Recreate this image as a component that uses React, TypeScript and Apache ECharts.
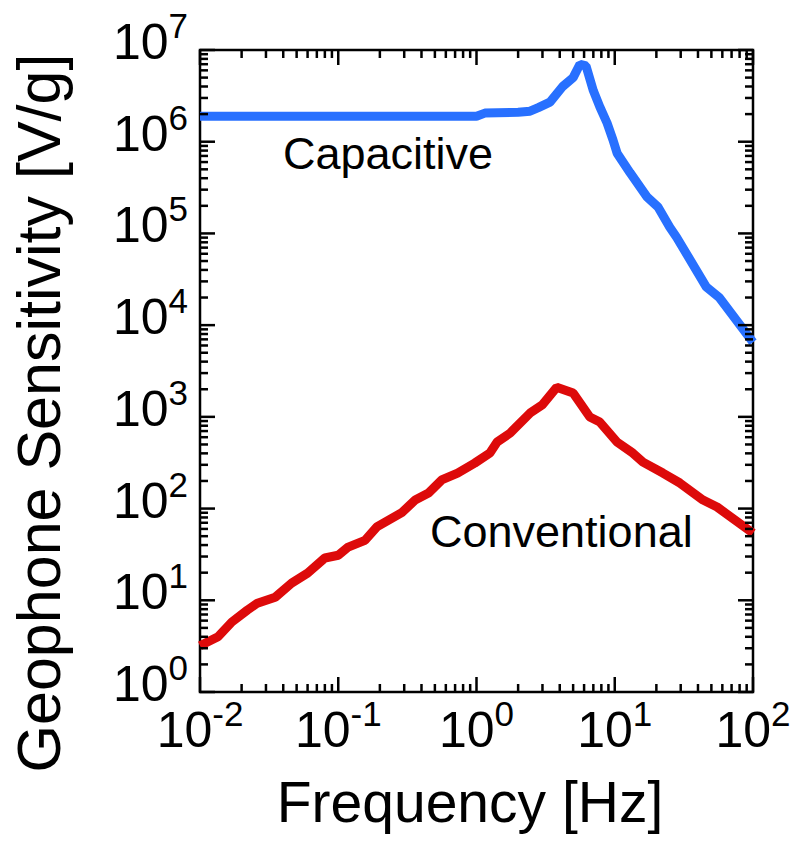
import React, { useEffect, useRef } from 'react';
import * as echarts from 'echarts';

// Capacitive geophone sensitivity [V/g] vs frequency [Hz]
const capFreq = [0.01, 0.1, 1.0, 1.15, 2.0, 2.44, 2.8, 3.4, 4.2, 5.0, 5.6, 6.2, 7.0, 7.8, 8.8, 9.7, 10.4, 12.9, 17.1, 20.5, 25, 28, 46, 57, 100];
const capSens = [1.9e6, 1.9e6, 1.9e6, 2.05e6, 2.1e6, 2.15e6, 2.35e6, 2.7e6, 4.0e6, 5.0e6, 7.0e6, 6.7e6, 3.6e6, 2.4e6, 1.6e6, 1.05e6, 7.5e5, 4.6e5, 2.5e5, 1.95e5, 1.17e5, 9.1e4, 2.6e4, 2.0e4, 6.5e3];

// Conventional geophone sensitivity [V/g] vs frequency [Hz]
const convFreq = [0.01, 0.0135, 0.017, 0.022, 0.026, 0.035, 0.046, 0.06, 0.08, 0.1, 0.118, 0.156, 0.19, 0.29, 0.36, 0.45, 0.56, 0.73, 0.97, 1.25, 1.41, 1.75, 2.44, 2.98, 3.8, 5.0, 6.6, 7.8, 10.4, 13.5, 16, 22.3, 29.6, 43.5, 55, 100];
const convSens = [3.2, 4.0, 5.8, 7.8, 9.3, 10.8, 15.4, 19.8, 28.9, 31, 38, 45, 63, 91, 124, 148, 205, 244, 313, 403, 531, 665, 1100, 1345, 2100, 1820, 995, 877, 531, 403, 321, 244, 190, 124, 104, 54];

// Axis decades (exponents) and minor tick multipliers
const xExponents = [-2, -1, 0, 1, 2];
const yExponents = [0, 1, 2, 3, 4, 5, 6, 7];
const minorMultipliers = [2, 3, 4, 5, 6, 7, 8, 9];

const X_MIN = 0.01;
const X_MAX = 100;
const Y_MIN = 1;
const Y_MAX = 1e7;

const FONT = 'Liberation Sans, Arial, Helvetica, sans-serif';
const BLUE = '#2870ff';
const RED = '#dd0a0a';

export default function App() {
  const ref = useRef<HTMLDivElement>(null);

  useEffect(() => {
    if (!ref.current) return;
    const chart = echarts.init(ref.current, null, { renderer: 'svg' });

    const expLabel = (v: number) => `{b|10}{s|${Math.round(Math.log10(v))}}`;
    const rich = {
      b: { fontSize: 50, lineHeight: 68, fontFamily: FONT, color: '#000' },
      s: { fontSize: 35, lineHeight: 35, verticalAlign: 'top', fontFamily: FONT, color: '#000' },
    };

    chart.setOption({
      animation: false,
      backgroundColor: '#fff',
      grid: {
        left: 200,
        right: 43,
        top: 50,
        bottom: 151,
        show: true,
        borderColor: '#000',
        borderWidth: 2.5,
        backgroundColor: 'transparent',
        containLabel: false,
        outerBoundsMode: 'none',
      },
      xAxis: {
        type: 'log',
        logBase: 10,
        min: X_MIN,
        max: X_MAX,
        splitNumber: 10,
        axisLine: { show: false },
        axisTick: { show: false },
        splitLine: { show: false },
        axisLabel: { formatter: expLabel, rich, margin: 4 },
      },
      yAxis: {
        type: 'log',
        logBase: 10,
        min: Y_MIN,
        max: Y_MAX,
        splitNumber: 10,
        axisLine: { show: false },
        axisTick: { show: false },
        splitLine: { show: false },
        axisLabel: { formatter: expLabel, rich, margin: 12, padding: [0, 0, 16, 0] },
      },
      series: [
        {
          name: 'Capacitive',
          type: 'line',
          data: capFreq.map((f, i) => [f, capSens[i]]),
          symbol: 'none',
          lineStyle: { color: BLUE, width: 9 },
          itemStyle: { color: BLUE },
          z: 2,
        },
        {
          name: 'Conventional',
          type: 'line',
          data: convFreq.map((f, i) => [f, convSens[i]]),
          symbol: 'none',
          lineStyle: { color: RED, width: 9 },
          itemStyle: { color: RED },
          z: 2,
        },
      ],
    } as any);

    // Inward ticks on all four sides, placed through the chart's own log scales
    const toPx = (x: number, y: number) =>
      chart.convertToPixel({ xAxisIndex: 0, yAxisIndex: 0 } as any, [x, y]) as number[];
    const tickStyle = { stroke: '#000', lineWidth: 2.5 };
    const ticks: any[] = [];
    const addX = (v: number, len: number) => {
      const b = toPx(v, Y_MIN);
      const t = toPx(v, Y_MAX);
      ticks.push({ type: 'line', silent: true, z: 20, shape: { x1: b[0], y1: b[1], x2: b[0], y2: b[1] - len }, style: tickStyle });
      ticks.push({ type: 'line', silent: true, z: 20, shape: { x1: t[0], y1: t[1], x2: t[0], y2: t[1] + len }, style: tickStyle });
    };
    const addY = (v: number, len: number) => {
      const l = toPx(X_MIN, v);
      const r = toPx(X_MAX, v);
      ticks.push({ type: 'line', silent: true, z: 20, shape: { x1: l[0], y1: l[1], x2: l[0] + len, y2: l[1] }, style: tickStyle });
      ticks.push({ type: 'line', silent: true, z: 20, shape: { x1: r[0], y1: r[1], x2: r[0] - len, y2: r[1] }, style: tickStyle });
    };
    xExponents.forEach((e) => addX(Math.pow(10, e), 15));
    xExponents.slice(0, -1).forEach((e) => minorMultipliers.forEach((m) => addX(m * Math.pow(10, e), 8)));
    yExponents.forEach((e) => addY(Math.pow(10, e), 15));
    yExponents.slice(0, -1).forEach((e) => minorMultipliers.forEach((m) => addY(m * Math.pow(10, e), 8)));

    const texts = [
      {
        type: 'text',
        x: 283,
        y: 153.5,
        style: { text: 'Capacitive', font: `45px ${FONT}`, fill: '#000', align: 'left', verticalAlign: 'middle' },
      },
      {
        type: 'text',
        x: 430,
        y: 531,
        style: { text: 'Conventional', font: `45px ${FONT}`, fill: '#000', align: 'left', verticalAlign: 'middle' },
      },
      {
        type: 'text',
        x: 470,
        y: 801.5,
        style: { text: 'Frequency [Hz]', font: `57px ${FONT}`, fill: '#000', align: 'center', verticalAlign: 'middle' },
      },
      {
        type: 'text',
        x: 39,
        y: 413,
        rotation: Math.PI / 2,
        style: { text: 'Geophone Sensitivity [V/g]', font: `61px ${FONT}`, fill: '#000', align: 'center', verticalAlign: 'middle' },
      },
    ];

    chart.setOption({ graphic: [...texts, ...ticks] });
    return () => chart.dispose();
  }, []);

  return <div ref={ref} style={{ position: 'fixed', left: 0, top: 0, width: 796, height: 843 }} />;
}
